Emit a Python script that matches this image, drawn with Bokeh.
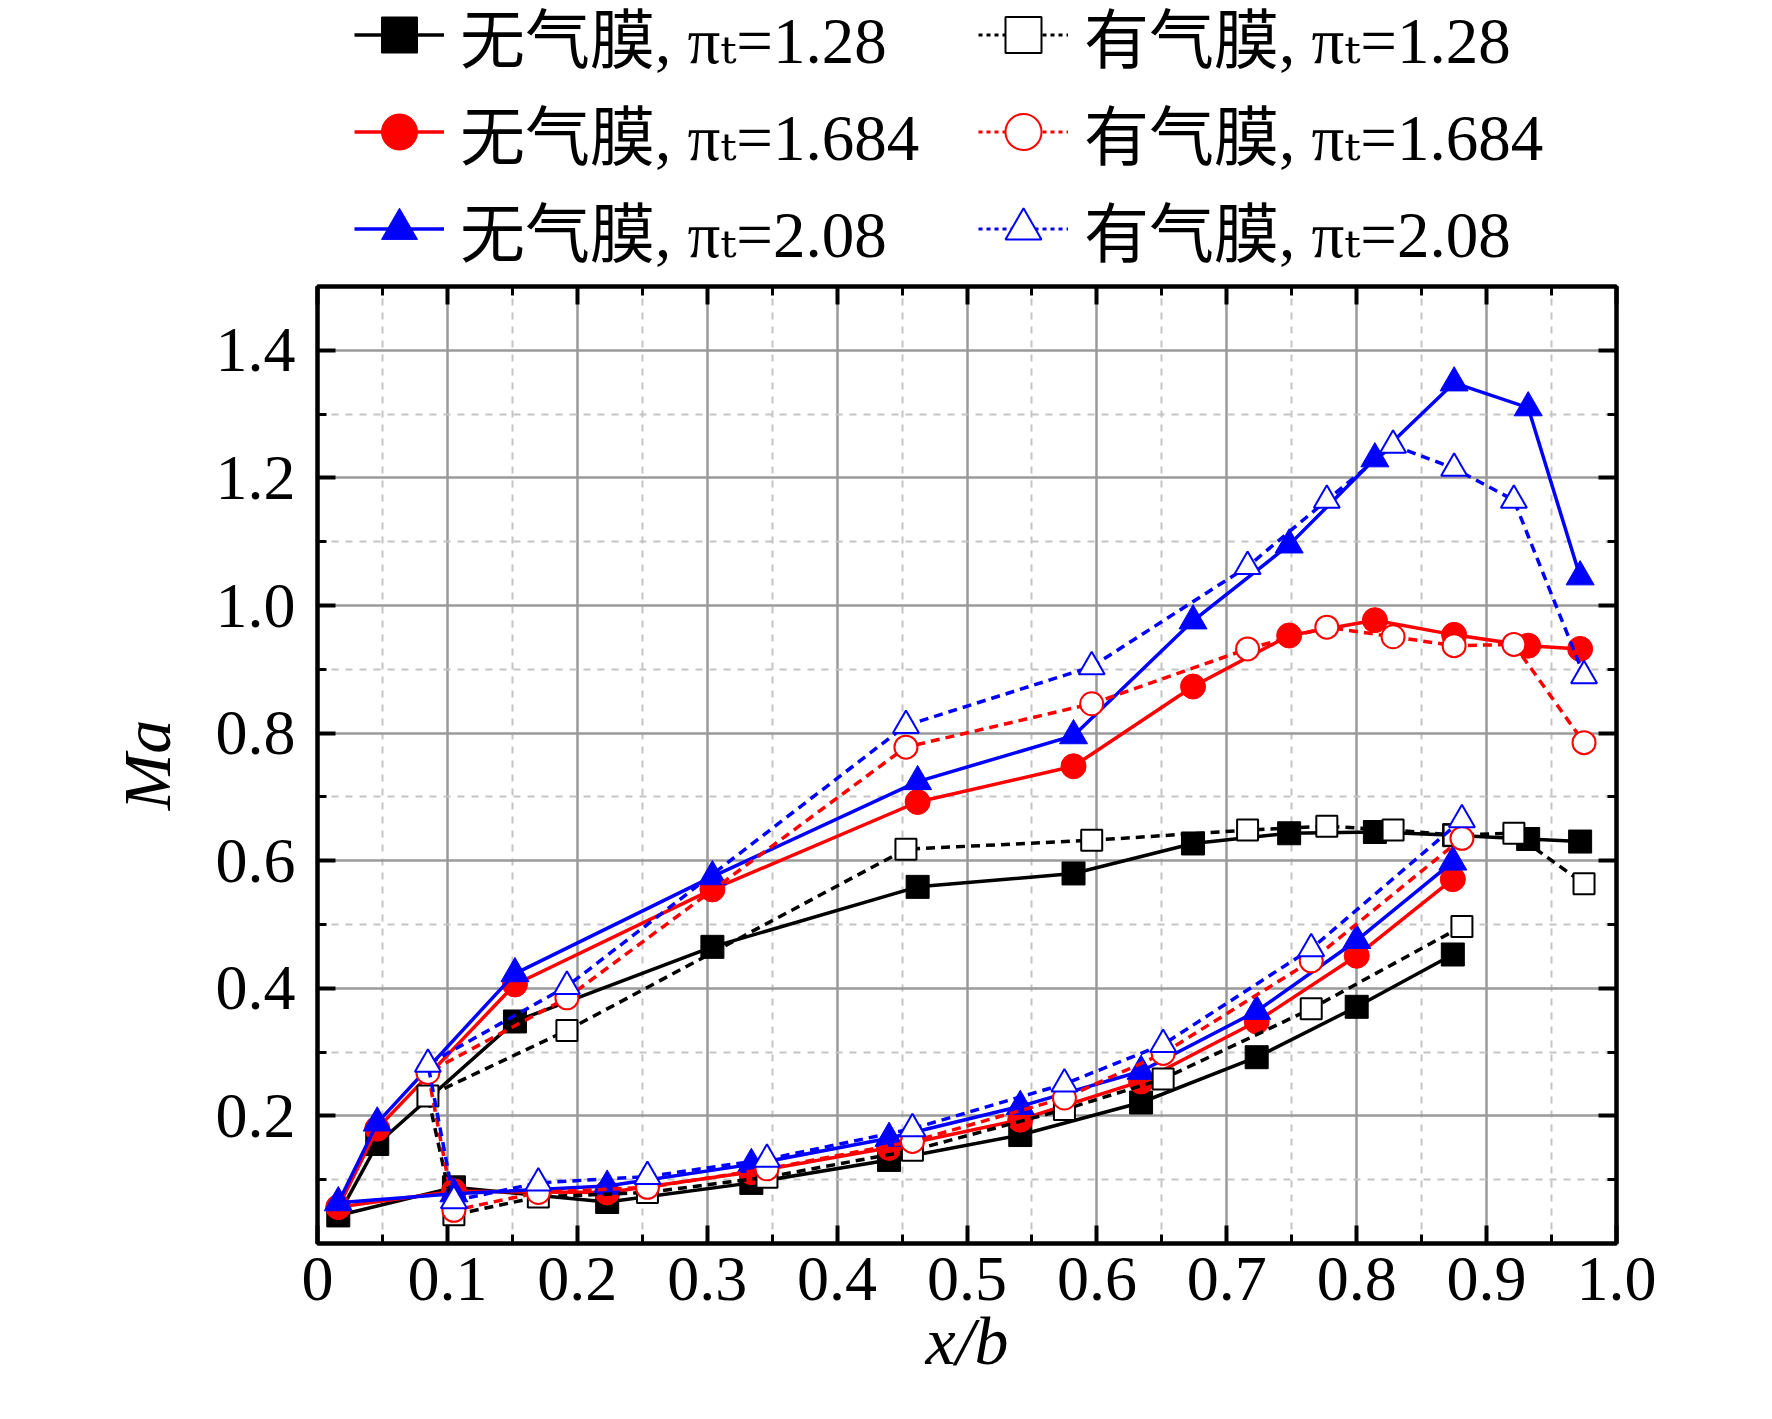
from bokeh.plotting import figure
from bokeh.models import (FixedTicker, LinearAxis, Legend, LegendItem, Range1d,
                          PrintfTickFormatter)
from bokeh.layouts import column
from bokeh.embed import file_html
from bokeh.resources import INLINE

# ---------------- data ----------------
# 无气膜 (no film): pressure side from trailing edge to leading edge, then suction side
x_solid = [0.874, 0.800, 0.723, 0.634, 0.541, 0.440, 0.334, 0.223, 0.105, 0.016,
           0.046, 0.152, 0.304, 0.462, 0.582, 0.674, 0.748, 0.814, 0.875, 0.932, 0.972]
ma_solid_128 = [0.453, 0.371, 0.292, 0.221, 0.170, 0.131, 0.095, 0.065, 0.088, 0.044,
                0.156, 0.348, 0.465, 0.559, 0.580, 0.627, 0.643, 0.645, 0.640, 0.634, 0.630]
ma_solid_1684 = [0.571, 0.451, 0.348, 0.254, 0.194, 0.150, 0.112, 0.080, 0.082, 0.057,
                 0.180, 0.406, 0.555, 0.692, 0.748, 0.873, 0.953, 0.977, 0.954, 0.937, 0.932]
ma_solid_208 = [0.598, 0.475, 0.364, 0.270, 0.215, 0.165, 0.124, 0.090, 0.078, 0.064,
                0.189, 0.423, 0.575, 0.724, 0.796, 0.976, 1.095, 1.230, 1.349, 1.310, 1.045]

# 有气膜 (with film)
x_film = [0.881, 0.765, 0.651, 0.575, 0.458, 0.346, 0.254, 0.170, 0.105, 0.085,
          0.192, 0.453, 0.596, 0.716, 0.777, 0.828, 0.875, 0.921, 0.975]
ma_film_128 = [0.497, 0.368, 0.258, 0.210, 0.146, 0.104, 0.080, 0.073, 0.045, 0.231,
               0.334, 0.618, 0.632, 0.648, 0.654, 0.648, 0.640, 0.643, 0.564]
ma_film_1684 = [0.635, 0.443, 0.298, 0.228, 0.160, 0.117, 0.088, 0.080, 0.052, 0.268,
                0.385, 0.778, 0.846, 0.932, 0.966, 0.951, 0.937, 0.939, 0.785]
ma_film_208 = [0.664, 0.462, 0.312, 0.250, 0.180, 0.132, 0.105, 0.095, 0.067, 0.281,
               0.403, 0.812, 0.904, 1.061, 1.165, 1.251, 1.215, 1.165, 0.890]

labels_solid = ["无气膜, πₜ=1.28", "无气膜, πₜ=1.684", "无气膜, πₜ=2.08"]
labels_film = ["有气膜, πₜ=1.28", "有气膜, πₜ=1.684", "有气膜, πₜ=2.08"]

x_ticks = [0, 0.1, 0.2, 0.3, 0.4, 0.5, 0.6, 0.7, 0.8, 0.9, 1.0]
x_minor = [0.05, 0.15, 0.25, 0.35, 0.45, 0.55, 0.65, 0.75, 0.85, 0.95]
y_ticks = [0.2, 0.4, 0.6, 0.8, 1.0, 1.2, 1.4]
y_minor = [0.1, 0.3, 0.5, 0.7, 0.9, 1.1, 1.3]

# ---------------- layout constants ----------------
W = 1750
H_TOTAL = 1403
H_LEG = 280
H_MAIN = H_TOTAL - H_LEG
FRAME_L, FRAME_R = 317, 1616
TOP_BORDER = 6
BOTTOM_BORDER = 160
LEG_LEFT = 354
LEG_COL2 = 978
ROW_H = 97
SERIF = "Liberation Serif"
LEG_FONT = "'Liberation Serif', 'Noto Sans CJK SC', 'DejaVu Serif'"

colors = ["black", "#ff0000", "#0000ff"]
markers = ["square", "circle", "triangle"]
sizes = [23, 25, 28]
solid_sets = [ma_solid_128, ma_solid_1684, ma_solid_208]
film_sets = [ma_film_128, ma_film_1684, ma_film_208]

# ---------------- main plot ----------------
p = figure(width=W, height=H_MAIN, output_backend="svg", toolbar_location=None,
           x_range=Range1d(0, 1.0), y_range=Range1d(0, 1.5),
           min_border_left=FRAME_L, min_border_right=W - FRAME_R,
           min_border_top=TOP_BORDER, min_border_bottom=BOTTOM_BORDER)
p.background_fill_color = "white"
p.border_fill_color = "white"
p.outline_line_color = "black"
p.outline_line_width = 4

xt = FixedTicker(ticks=x_ticks, minor_ticks=x_minor)
yt = FixedTicker(ticks=y_ticks, minor_ticks=y_minor)


def style_axis(ax, labels=True):
    ax.axis_line_width = 4
    ax.axis_line_color = "black"
    ax.major_tick_in = 18
    ax.major_tick_out = 0
    ax.minor_tick_in = 9
    ax.minor_tick_out = 0
    ax.major_tick_line_width = 4
    ax.minor_tick_line_width = 3
    ax.major_tick_line_color = "black"
    ax.minor_tick_line_color = "black"
    if labels:
        ax.major_label_text_font = SERIF
        ax.major_label_text_font_size = "64px"
        ax.major_label_text_color = "black"
        ax.axis_label_text_font = SERIF
        ax.axis_label_text_font_style = "italic"
        ax.axis_label_text_font_size = "68px"
        ax.axis_label_text_color = "black"
    else:
        ax.major_label_text_color = None
        ax.major_label_text_font_size = "1px"
        ax.major_label_standoff = 0


xa = p.xaxis[0]
xa.ticker = xt
xa.formatter = PrintfTickFormatter(format="%.1f")
xa.major_label_overrides = {0: "0"}
xa.axis_label = "x/b"
style_axis(xa)
xa.major_label_standoff = 14
xa.axis_label_standoff = 0

ya = p.yaxis[0]
ya.ticker = yt
ya.formatter = PrintfTickFormatter(format="%.1f")
ya.axis_label = "Ma"
style_axis(ya)
ya.major_label_standoff = 22
ya.axis_label_standoff = 28

top_ax = LinearAxis(ticker=xt)
style_axis(top_ax, labels=False)
p.add_layout(top_ax, "above")
right_ax = LinearAxis(ticker=yt)
style_axis(right_ax, labels=False)
p.add_layout(right_ax, "right")

for g in (p.xgrid[0], p.ygrid[0]):
    g.grid_line_color = "#9a9a9a"
    g.grid_line_width = 2.5
    g.minor_grid_line_color = "#c4c4c4"
    g.minor_grid_line_width = 2
    g.minor_grid_line_dash = "7 7"
p.xgrid[0].ticker = xt
p.ygrid[0].ticker = yt

for ys, c, m, s in zip(solid_sets, colors, markers, sizes):
    p.line(x_solid, ys, line_color=c, line_width=3.5)
    p.scatter(x_solid, ys, marker=m, size=s, fill_color=c, line_color=c, line_width=1)

for ys, c, m, s in zip(film_sets, colors, markers, sizes):
    p.line(x_film, ys, line_color=c, line_width=3.5, line_dash="9 6")
    p.scatter(x_film, ys, marker=m, size=s - 2, fill_color="white", line_color=c, line_width=2)

# ---------------- legend strip above the plot ----------------
# (its frame is aligned with the main plot's frame by the column layout)
leg = figure(width=W, height=H_LEG, output_backend="svg", toolbar_location=None,
             x_range=Range1d(0, 1.0), y_range=Range1d(0, 1.5),
             x_axis_type=None, y_axis_type=None,
             min_border_left=FRAME_L, min_border_right=W - FRAME_R,
             min_border_top=0, min_border_bottom=0)
leg.outline_line_color = None
leg.background_fill_color = "white"
leg.border_fill_color = "white"
leg.xgrid.visible = False
leg.ygrid.visible = False

items_solid, items_film = [], []
for ys, lab, c, m, s in zip(solid_sets, labels_solid, colors, markers, sizes):
    lr = leg.line(x_solid, ys, line_color=c, line_width=3.5, visible=False)
    sr = leg.scatter(x_solid, ys, marker=m, size=s, fill_color=c, line_color=c,
                     line_width=1, visible=False)
    items_solid.append(LegendItem(label=lab, renderers=[lr, sr]))
for ys, lab, c, m, s in zip(film_sets, labels_film, colors, markers, sizes):
    lr = leg.line(x_film, ys, line_color=c, line_width=3, line_dash="4 4", visible=False)
    sr = leg.scatter(x_film, ys, marker=m, size=s - 2, fill_color="white", line_color=c,
                     line_width=2, visible=False)
    items_film.append(LegendItem(label=lab, renderers=[lr, sr]))

GLYPH_W, STANDOFF = 90, 16
# location = bottom-left corner of the legend, in screen px from the frame's bottom-left
legend = Legend(items=items_solid + items_film, ncols=2,
                location=(LEG_LEFT - FRAME_L, H_LEG - 3 * ROW_H + 14),
                click_policy="none",
                label_text_font=LEG_FONT, label_text_font_size="65px",
                label_text_color="black",
                glyph_width=GLYPH_W, glyph_height=ROW_H, label_height=ROW_H,
                label_width=(LEG_COL2 - LEG_LEFT) - GLYPH_W - STANDOFF,
                label_standoff=STANDOFF, spacing=0, padding=0, margin=0,
                border_line_color=None, background_fill_alpha=0)
leg.add_layout(legend, "center")

layout = column(leg, p, spacing=0)
open("out.html", "w").write(file_html(layout, INLINE))
